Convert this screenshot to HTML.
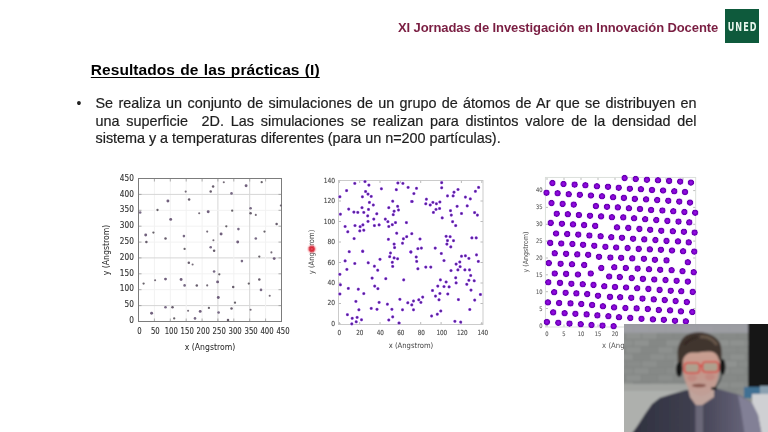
<!DOCTYPE html>
<html><head><meta charset="utf-8"><title>Resultados de las prácticas (I)</title>
<style>
html,body{margin:0;padding:0;background:#fff;}
body{width:768px;height:432px;position:relative;overflow:hidden;font-family:"Liberation Sans",Arial,sans-serif;}
.hdr{position:absolute;left:398px;top:19.5px;font-weight:bold;font-size:13px;letter-spacing:-0.1px;color:#7a1e42;white-space:nowrap;line-height:15px;}
.logo{position:absolute;left:725px;top:9px;width:34px;height:34px;background:#0e5a3c;}
.logo span{position:absolute;left:2.7px;top:12.5px;width:30px;text-align:center;color:#e6f6ec;font:bold 9px "DejaVu Sans",sans-serif;font-stretch:condensed;letter-spacing:1.1px;line-height:10px;transform:scaleY(1.33);}
.ttl{position:absolute;left:90.8px;top:60.5px;font-weight:bold;font-size:15.5px;letter-spacing:0.07px;word-spacing:0.9px;color:#000;white-space:nowrap;line-height:17px;text-decoration:underline;text-decoration-thickness:1.3px;text-underline-offset:2.1px;text-decoration-skip-ink:none;}
.bul{position:absolute;left:76.5px;top:95.4px;font-size:14px;color:#222;line-height:17px;}
.txt{position:absolute;left:95.5px;top:95.4px;-webkit-text-stroke:0.2px #1e1e1e;width:601px;font-size:14.4px;color:#1e1e1e;line-height:17.2px;}
.txt div{white-space:nowrap;text-align:justify;text-align-last:justify;}
.txt div.l{text-align:left;text-align-last:left;word-spacing:-0.1px;}
svg{position:absolute;left:0;top:0;}
</style></head><body>
<div class="hdr">XI Jornadas de Investigación en Innovación Docente</div>
<div class="logo"><span>UNED</span></div>
<div class="ttl">Resultados de las prácticas (I)</div>
<div class="bul">•</div>
<div class="txt"><div>Se realiza un conjunto de simulaciones de un grupo de átomos de Ar que se distribuyen en</div><div>una superficie &nbsp;2D. Las simulaciones se realizan para distintos valore de la densidad del</div><div class="l">sistema y a temperaturas diferentes (para un n=200 partículas).</div></div>
<svg width="768" height="432" viewBox="0 0 768 432">
<defs><radialGradient id="g2"><stop offset="0" stop-color="#4e2478"/><stop offset="0.4" stop-color="#6228a8"/><stop offset="0.7" stop-color="#9a50e8" stop-opacity="0.75"/><stop offset="1" stop-color="#d0a0ff" stop-opacity="0"/></radialGradient>
<radialGradient id="g3"><stop offset="0" stop-color="#9a14ea"/><stop offset="0.55" stop-color="#7e00cc"/><stop offset="0.85" stop-color="#6200aa"/><stop offset="1" stop-color="#8a30d0" stop-opacity="0.5"/></radialGradient>
<radialGradient id="gr"><stop offset="0" stop-color="#e85a68"/><stop offset="0.3" stop-color="#d82838"/><stop offset="0.5" stop-color="#e03848" stop-opacity="0.85"/><stop offset="0.75" stop-color="#f89098" stop-opacity="0.35"/><stop offset="1" stop-color="#ffd0d0" stop-opacity="0"/></radialGradient></defs>
<g fill="#5e4e6a"><line x1="154.4" y1="178.5" x2="154.4" y2="321.5" stroke="#f2f2f2" stroke-width="1"/><line x1="138.5" y1="305.6" x2="281.5" y2="305.6" stroke="#d6d6d6" stroke-width="1"/><line x1="170.3" y1="178.5" x2="170.3" y2="321.5" stroke="#f2f2f2" stroke-width="1"/><line x1="138.5" y1="289.7" x2="281.5" y2="289.7" stroke="#f2f2f2" stroke-width="1"/><line x1="186.2" y1="178.5" x2="186.2" y2="321.5" stroke="#f2f2f2" stroke-width="1"/><line x1="138.5" y1="273.8" x2="281.5" y2="273.8" stroke="#f2f2f2" stroke-width="1"/><line x1="202.1" y1="178.5" x2="202.1" y2="321.5" stroke="#f2f2f2" stroke-width="1"/><line x1="138.5" y1="257.9" x2="281.5" y2="257.9" stroke="#d6d6d6" stroke-width="1"/><line x1="217.9" y1="178.5" x2="217.9" y2="321.5" stroke="#d6d6d6" stroke-width="1"/><line x1="138.5" y1="242.1" x2="281.5" y2="242.1" stroke="#f2f2f2" stroke-width="1"/><line x1="233.8" y1="178.5" x2="233.8" y2="321.5" stroke="#f2f2f2" stroke-width="1"/><line x1="138.5" y1="226.2" x2="281.5" y2="226.2" stroke="#f2f2f2" stroke-width="1"/><line x1="249.7" y1="178.5" x2="249.7" y2="321.5" stroke="#d6d6d6" stroke-width="1"/><line x1="138.5" y1="210.3" x2="281.5" y2="210.3" stroke="#f2f2f2" stroke-width="1"/><line x1="265.6" y1="178.5" x2="265.6" y2="321.5" stroke="#f2f2f2" stroke-width="1"/><line x1="138.5" y1="194.4" x2="281.5" y2="194.4" stroke="#d6d6d6" stroke-width="1"/><path d="M138.5 321.5v-3M138.5 178.5v3M138.5 321.5h3M281.5 321.5h-3M154.4 321.5v-3M154.4 178.5v3M138.5 305.6h3M281.5 305.6h-3M170.3 321.5v-3M170.3 178.5v3M138.5 289.7h3M281.5 289.7h-3M186.2 321.5v-3M186.2 178.5v3M138.5 273.8h3M281.5 273.8h-3M202.1 321.5v-3M202.1 178.5v3M138.5 257.9h3M281.5 257.9h-3M217.9 321.5v-3M217.9 178.5v3M138.5 242.1h3M281.5 242.1h-3M233.8 321.5v-3M233.8 178.5v3M138.5 226.2h3M281.5 226.2h-3M249.7 321.5v-3M249.7 178.5v3M138.5 210.3h3M281.5 210.3h-3M265.6 321.5v-3M265.6 178.5v3M138.5 194.4h3M281.5 194.4h-3M281.5 321.5v-3M281.5 178.5v3M138.5 178.5h3M281.5 178.5h-3" stroke="#999" stroke-width="0.8" fill="none"/><rect x="138.5" y="178.5" width="143" height="143" fill="none" stroke="#7c7c7c" stroke-width="1"/><circle cx="213.1" cy="186.4" r="1.25" fill="#4e4254" fill-opacity="0.85"/><circle cx="223.8" cy="182.2" r="1.05" fill="#5e5462" fill-opacity="0.85"/><circle cx="246.1" cy="185.7" r="1.45" fill="#584466" fill-opacity="0.85"/><circle cx="261.7" cy="182.2" r="1.15" fill="#4e4850" fill-opacity="0.85"/><circle cx="231.5" cy="193.4" r="1.3" fill="#605070" fill-opacity="0.85"/><circle cx="210.7" cy="191.6" r="1.25" fill="#4e4254" fill-opacity="0.85"/><circle cx="185.7" cy="191.6" r="1.05" fill="#5e5462" fill-opacity="0.85"/><circle cx="167.9" cy="201" r="1.45" fill="#584466" fill-opacity="0.85"/><circle cx="157.5" cy="210" r="1.15" fill="#4e4850" fill-opacity="0.85"/><circle cx="140.2" cy="212.5" r="1.3" fill="#605070" fill-opacity="0.85"/><circle cx="189.1" cy="199.6" r="1.25" fill="#4e4254" fill-opacity="0.85"/><circle cx="199.2" cy="213.2" r="1.05" fill="#5e5462" fill-opacity="0.85"/><circle cx="208.2" cy="211.8" r="1.45" fill="#584466" fill-opacity="0.85"/><circle cx="232.2" cy="210.7" r="1.15" fill="#4e4850" fill-opacity="0.85"/><circle cx="250.6" cy="208.3" r="1.3" fill="#605070" fill-opacity="0.85"/><circle cx="250.6" cy="213.2" r="1.25" fill="#4e4254" fill-opacity="0.85"/><circle cx="255.8" cy="214.9" r="1.05" fill="#5e5462" fill-opacity="0.85"/><circle cx="170.7" cy="219.4" r="1.45" fill="#584466" fill-opacity="0.85"/><circle cx="226.3" cy="226.3" r="1.15" fill="#4e4850" fill-opacity="0.85"/><circle cx="238.4" cy="229.1" r="1.3" fill="#605070" fill-opacity="0.85"/><circle cx="276.6" cy="223.9" r="1.25" fill="#4e4254" fill-opacity="0.85"/><circle cx="280.8" cy="205.5" r="1.05" fill="#5e5462" fill-opacity="0.85"/><circle cx="145.7" cy="235" r="1.45" fill="#584466" fill-opacity="0.85"/><circle cx="153.4" cy="232.6" r="1.15" fill="#4e4850" fill-opacity="0.85"/><circle cx="183.9" cy="236.1" r="1.3" fill="#605070" fill-opacity="0.85"/><circle cx="165.5" cy="238.5" r="1.25" fill="#4e4254" fill-opacity="0.85"/><circle cx="207.2" cy="231.6" r="1.05" fill="#5e5462" fill-opacity="0.85"/><circle cx="221.1" cy="234" r="1.45" fill="#584466" fill-opacity="0.85"/><circle cx="264.5" cy="231.6" r="1.15" fill="#4e4850" fill-opacity="0.85"/><circle cx="255.8" cy="238.5" r="1.3" fill="#605070" fill-opacity="0.85"/><circle cx="146.4" cy="242" r="1.25" fill="#4e4254" fill-opacity="0.85"/><circle cx="213.4" cy="240.2" r="1.05" fill="#5e5462" fill-opacity="0.85"/><circle cx="237.7" cy="242" r="1.45" fill="#584466" fill-opacity="0.85"/><circle cx="184.6" cy="248.9" r="1.15" fill="#4e4850" fill-opacity="0.85"/><circle cx="210.7" cy="247.2" r="1.3" fill="#605070" fill-opacity="0.85"/><circle cx="214.1" cy="250.7" r="1.25" fill="#4e4254" fill-opacity="0.85"/><circle cx="271.4" cy="252.4" r="1.05" fill="#5e5462" fill-opacity="0.85"/><circle cx="274.2" cy="258.6" r="1.45" fill="#584466" fill-opacity="0.85"/><circle cx="259.3" cy="256.6" r="1.15" fill="#4e4850" fill-opacity="0.85"/><circle cx="241.9" cy="261.1" r="1.3" fill="#605070" fill-opacity="0.85"/><circle cx="188.8" cy="262.8" r="1.25" fill="#4e4254" fill-opacity="0.85"/><circle cx="192.6" cy="264.5" r="1.05" fill="#5e5462" fill-opacity="0.85"/><circle cx="181.1" cy="279.5" r="1.45" fill="#584466" fill-opacity="0.85"/><circle cx="219.3" cy="274.3" r="1.15" fill="#4e4850" fill-opacity="0.85"/><circle cx="214.1" cy="271.5" r="1.3" fill="#605070" fill-opacity="0.85"/><circle cx="259.3" cy="279.5" r="1.25" fill="#4e4254" fill-opacity="0.85"/><circle cx="155.1" cy="280.2" r="1.05" fill="#5e5462" fill-opacity="0.85"/><circle cx="165.5" cy="279.1" r="1.45" fill="#584466" fill-opacity="0.85"/><circle cx="143.6" cy="283.6" r="1.15" fill="#4e4850" fill-opacity="0.85"/><circle cx="184.6" cy="285.4" r="1.3" fill="#605070" fill-opacity="0.85"/><circle cx="196.8" cy="285.4" r="1.25" fill="#4e4254" fill-opacity="0.85"/><circle cx="207.2" cy="285.4" r="1.05" fill="#5e5462" fill-opacity="0.85"/><circle cx="217.6" cy="281.9" r="1.45" fill="#584466" fill-opacity="0.85"/><circle cx="248.8" cy="283.6" r="1.15" fill="#4e4850" fill-opacity="0.85"/><circle cx="261" cy="289.9" r="1.3" fill="#605070" fill-opacity="0.85"/><circle cx="233.2" cy="287.1" r="1.25" fill="#4e4254" fill-opacity="0.85"/><circle cx="269.7" cy="295.8" r="1.05" fill="#5e5462" fill-opacity="0.85"/><circle cx="218.3" cy="297.5" r="1.45" fill="#584466" fill-opacity="0.85"/><circle cx="235" cy="302.7" r="1.15" fill="#4e4850" fill-opacity="0.85"/><circle cx="165.5" cy="307.2" r="1.3" fill="#605070" fill-opacity="0.85"/><circle cx="172.5" cy="307.2" r="1.25" fill="#4e4254" fill-opacity="0.85"/><circle cx="188.1" cy="310.7" r="1.05" fill="#5e5462" fill-opacity="0.85"/><circle cx="200.2" cy="311.4" r="1.45" fill="#584466" fill-opacity="0.85"/><circle cx="208.9" cy="307.9" r="1.15" fill="#4e4850" fill-opacity="0.85"/><circle cx="218.6" cy="312.5" r="1.3" fill="#605070" fill-opacity="0.85"/><circle cx="231.5" cy="308.6" r="1.25" fill="#4e4254" fill-opacity="0.85"/><circle cx="250.6" cy="309.7" r="1.05" fill="#5e5462" fill-opacity="0.85"/><circle cx="151.6" cy="313.2" r="1.45" fill="#584466" fill-opacity="0.85"/><circle cx="174.2" cy="318.4" r="1.15" fill="#4e4850" fill-opacity="0.85"/><circle cx="195" cy="318.4" r="1.3" fill="#605070" fill-opacity="0.85"/><circle cx="228" cy="320.1" r="1.25" fill="#4e4254" fill-opacity="0.85"/></g>
<g font-family="DejaVu Sans" font-stretch="condensed" font-size="8.4" fill="#333" stroke="#333" stroke-width="0.12"><text x="133.9" y="322.9" text-anchor="end" textLength="4.7" lengthAdjust="spacingAndGlyphs">0</text><text x="139.4" y="334.1" text-anchor="middle" textLength="4.4" lengthAdjust="spacingAndGlyphs">0</text><text x="133.9" y="307.2" text-anchor="end" textLength="9.4" lengthAdjust="spacingAndGlyphs">50</text><text x="155.3" y="334.1" text-anchor="middle" textLength="8.8" lengthAdjust="spacingAndGlyphs">50</text><text x="133.9" y="291.4" text-anchor="end" textLength="14.1" lengthAdjust="spacingAndGlyphs">100</text><text x="171.3" y="334.1" text-anchor="middle" textLength="13.2" lengthAdjust="spacingAndGlyphs">100</text><text x="133.9" y="275.6" text-anchor="end" textLength="14.1" lengthAdjust="spacingAndGlyphs">150</text><text x="187.2" y="334.1" text-anchor="middle" textLength="13.2" lengthAdjust="spacingAndGlyphs">150</text><text x="133.9" y="259.8" text-anchor="end" textLength="14.1" lengthAdjust="spacingAndGlyphs">200</text><text x="203.2" y="334.1" text-anchor="middle" textLength="13.2" lengthAdjust="spacingAndGlyphs">200</text><text x="133.9" y="243.9" text-anchor="end" textLength="14.1" lengthAdjust="spacingAndGlyphs">250</text><text x="219.2" y="334.1" text-anchor="middle" textLength="13.2" lengthAdjust="spacingAndGlyphs">250</text><text x="133.9" y="228.2" text-anchor="end" textLength="14.1" lengthAdjust="spacingAndGlyphs">300</text><text x="235.1" y="334.1" text-anchor="middle" textLength="13.2" lengthAdjust="spacingAndGlyphs">300</text><text x="133.9" y="212.3" text-anchor="end" textLength="14.1" lengthAdjust="spacingAndGlyphs">350</text><text x="251.1" y="334.1" text-anchor="middle" textLength="13.2" lengthAdjust="spacingAndGlyphs">350</text><text x="133.9" y="196.6" text-anchor="end" textLength="14.1" lengthAdjust="spacingAndGlyphs">400</text><text x="267" y="334.1" text-anchor="middle" textLength="13.2" lengthAdjust="spacingAndGlyphs">400</text><text x="133.9" y="180.8" text-anchor="end" textLength="14.1" lengthAdjust="spacingAndGlyphs">450</text><text x="283" y="334.1" text-anchor="middle" textLength="13.2" lengthAdjust="spacingAndGlyphs">450</text></g>
<g font-family="DejaVu Sans" font-stretch="condensed" fill="#222"><text x="210" y="349.8" text-anchor="middle" font-size="8.6">x (Angstrom)</text>
<text transform="translate(108.6,250) rotate(-90)" text-anchor="middle" font-size="8.6">y (Angstrom)</text></g>
<path d="M339.3 324.5v-2.5M339.3 180.5v2.5M338.5 324h2.5M483 324h-2.5M359.7 324.5v-2.5M359.7 180.5v2.5M338.5 303.5h2.5M483 303.5h-2.5M380 324.5v-2.5M380 180.5v2.5M338.5 283h2.5M483 283h-2.5M400.4 324.5v-2.5M400.4 180.5v2.5M338.5 262.5h2.5M483 262.5h-2.5M420.7 324.5v-2.5M420.7 180.5v2.5M338.5 242h2.5M483 242h-2.5M441.1 324.5v-2.5M441.1 180.5v2.5M338.5 221.5h2.5M483 221.5h-2.5M461.4 324.5v-2.5M461.4 180.5v2.5M338.5 201h2.5M483 201h-2.5M481.8 324.5v-2.5M481.8 180.5v2.5M338.5 180.5h2.5M483 180.5h-2.5" stroke="#aaa" stroke-width="0.8" fill="none"/><rect x="338.5" y="180.5" width="144.5" height="144" fill="none" stroke="#c6c6c6" stroke-width="0.9"/><g fill="url(#g2)"><circle cx="354.8" cy="183.4" r="2.1"/><circle cx="365" cy="181.6" r="2.1"/><circle cx="368.9" cy="185.1" r="2.1"/><circle cx="397.9" cy="183" r="2.1"/><circle cx="402.9" cy="183.4" r="2.1"/><circle cx="408.1" cy="187.4" r="2.1"/><circle cx="346.6" cy="190.6" r="2.1"/><circle cx="381.4" cy="188.8" r="2.1"/><circle cx="396.3" cy="189.7" r="2.1"/><circle cx="365.6" cy="191.5" r="2.1"/><circle cx="368" cy="194.1" r="2.1"/><circle cx="371.2" cy="196.4" r="2.1"/><circle cx="362.4" cy="196.8" r="2.1"/><circle cx="339.9" cy="196.8" r="2.1"/><circle cx="369.4" cy="202.4" r="2.1"/><circle cx="373.3" cy="205" r="2.1"/><circle cx="392.7" cy="201.2" r="2.1"/><circle cx="411.7" cy="201.5" r="2.1"/><circle cx="362" cy="207.7" r="2.1"/><circle cx="368.5" cy="209.4" r="2.1"/><circle cx="388.8" cy="207.7" r="2.1"/><circle cx="397.6" cy="206.3" r="2.1"/><circle cx="398.5" cy="210" r="2.1"/><circle cx="394.1" cy="211.2" r="2.1"/><circle cx="348.7" cy="209.1" r="2.1"/><circle cx="353.9" cy="212.1" r="2.1"/><circle cx="357.8" cy="212.4" r="2.1"/><circle cx="363.8" cy="212.4" r="2.1"/><circle cx="340.4" cy="214.2" r="2.1"/><circle cx="376.8" cy="213.8" r="2.1"/><circle cx="393.2" cy="214.7" r="2.1"/><circle cx="367.7" cy="215.9" r="2.1"/><circle cx="373.8" cy="219.1" r="2.1"/><circle cx="385.3" cy="219.1" r="2.1"/><circle cx="387.9" cy="221.7" r="2.1"/><circle cx="395.5" cy="222.6" r="2.1"/><circle cx="368" cy="221.4" r="2.1"/><circle cx="406.4" cy="222.6" r="2.1"/><circle cx="345.1" cy="226.5" r="2.1"/><circle cx="355" cy="225.6" r="2.1"/><circle cx="362.9" cy="224.9" r="2.1"/><circle cx="360.1" cy="226.7" r="2.1"/><circle cx="374.4" cy="225.6" r="2.1"/><circle cx="379.1" cy="224.9" r="2.1"/><circle cx="388.8" cy="226.5" r="2.1"/><circle cx="392.3" cy="224.7" r="2.1"/><circle cx="347.8" cy="231.8" r="2.1"/><circle cx="359.8" cy="230.9" r="2.1"/><circle cx="363.8" cy="230.2" r="2.1"/><circle cx="396.7" cy="233.2" r="2.1"/><circle cx="354.1" cy="238.6" r="2.1"/><circle cx="388.4" cy="239.3" r="2.1"/><circle cx="403.4" cy="238.8" r="2.1"/><circle cx="406.7" cy="236.7" r="2.1"/><circle cx="394.1" cy="244.1" r="2.1"/><circle cx="402.5" cy="243.2" r="2.1"/><circle cx="394.6" cy="247.6" r="2.1"/><circle cx="349.2" cy="251.7" r="2.1"/><circle cx="362.7" cy="251.1" r="2.1"/><circle cx="441.7" cy="182.7" r="2.1"/><circle cx="441.7" cy="187.8" r="2.1"/><circle cx="416.5" cy="188.3" r="2.1"/><circle cx="413.9" cy="193.6" r="2.1"/><circle cx="458" cy="189.5" r="2.1"/><circle cx="454" cy="192.2" r="2.1"/><circle cx="453.1" cy="195.9" r="2.1"/><circle cx="447.5" cy="195.9" r="2.1"/><circle cx="478.6" cy="187.4" r="2.1"/><circle cx="475.4" cy="191.3" r="2.1"/><circle cx="465.4" cy="197.1" r="2.1"/><circle cx="470.3" cy="198.9" r="2.1"/><circle cx="412.1" cy="201.5" r="2.1"/><circle cx="426.4" cy="199.2" r="2.1"/><circle cx="425.8" cy="203.8" r="2.1"/><circle cx="430.2" cy="205" r="2.1"/><circle cx="432.9" cy="202.4" r="2.1"/><circle cx="436.4" cy="203.8" r="2.1"/><circle cx="439.9" cy="202" r="2.1"/><circle cx="436" cy="209.4" r="2.1"/><circle cx="439.6" cy="208.5" r="2.1"/><circle cx="433.4" cy="212.4" r="2.1"/><circle cx="457.1" cy="206.3" r="2.1"/><circle cx="467.2" cy="205.9" r="2.1"/><circle cx="450.5" cy="210.7" r="2.1"/><circle cx="451.3" cy="215.1" r="2.1"/><circle cx="461.5" cy="213.5" r="2.1"/><circle cx="474.6" cy="212.6" r="2.1"/><circle cx="477.4" cy="215.1" r="2.1"/><circle cx="442.2" cy="217.9" r="2.1"/><circle cx="452.6" cy="221.7" r="2.1"/><circle cx="455.7" cy="225.6" r="2.1"/><circle cx="411.8" cy="233.7" r="2.1"/><circle cx="420" cy="239" r="2.1"/><circle cx="446.1" cy="236.3" r="2.1"/><circle cx="450.1" cy="236.7" r="2.1"/><circle cx="447.5" cy="240.6" r="2.1"/><circle cx="453.5" cy="240.7" r="2.1"/><circle cx="446.9" cy="244.1" r="2.1"/><circle cx="450.8" cy="246.9" r="2.1"/><circle cx="471.9" cy="237.9" r="2.1"/><circle cx="476.2" cy="237.9" r="2.1"/><circle cx="417.9" cy="248.7" r="2.1"/><circle cx="421.4" cy="248.1" r="2.1"/><circle cx="435.2" cy="248.1" r="2.1"/><circle cx="362.7" cy="251.4" r="2.1"/><circle cx="390.5" cy="253" r="2.1"/><circle cx="389.7" cy="256.7" r="2.1"/><circle cx="394.1" cy="257.9" r="2.1"/><circle cx="397.6" cy="258.8" r="2.1"/><circle cx="410.8" cy="251.8" r="2.1"/><circle cx="345.1" cy="260.9" r="2.1"/><circle cx="354.8" cy="263.5" r="2.1"/><circle cx="368.2" cy="262.8" r="2.1"/><circle cx="380" cy="259.3" r="2.1"/><circle cx="392.3" cy="262.3" r="2.1"/><circle cx="392.7" cy="266.4" r="2.1"/><circle cx="374.4" cy="266.2" r="2.1"/><circle cx="377.7" cy="270.2" r="2.1"/><circle cx="346.9" cy="269.4" r="2.1"/><circle cx="339.9" cy="274.3" r="2.1"/><circle cx="372.1" cy="278.1" r="2.1"/><circle cx="385.8" cy="278.7" r="2.1"/><circle cx="403.7" cy="279.9" r="2.1"/><circle cx="340.4" cy="284.8" r="2.1"/><circle cx="348.3" cy="288.4" r="2.1"/><circle cx="358.3" cy="289.2" r="2.1"/><circle cx="374.7" cy="286.1" r="2.1"/><circle cx="377.9" cy="288.7" r="2.1"/><circle cx="363.8" cy="293.6" r="2.1"/><circle cx="339.9" cy="294" r="2.1"/><circle cx="399.9" cy="299.3" r="2.1"/><circle cx="355.9" cy="301.4" r="2.1"/><circle cx="379.1" cy="302.4" r="2.1"/><circle cx="387.4" cy="304.2" r="2.1"/><circle cx="407.8" cy="302.8" r="2.1"/><circle cx="358.9" cy="309.8" r="2.1"/><circle cx="371.2" cy="308.4" r="2.1"/><circle cx="377" cy="309.3" r="2.1"/><circle cx="391.9" cy="309.3" r="2.1"/><circle cx="402.5" cy="309.8" r="2.1"/><circle cx="347.4" cy="314.7" r="2.1"/><circle cx="352.2" cy="318.3" r="2.1"/><circle cx="357.1" cy="317.4" r="2.1"/><circle cx="361.5" cy="319.8" r="2.1"/><circle cx="392.7" cy="316.9" r="2.1"/><circle cx="388.8" cy="320" r="2.1"/><circle cx="356.2" cy="321.8" r="2.1"/><circle cx="351.8" cy="323.9" r="2.1"/><circle cx="399" cy="323" r="2.1"/><circle cx="410.9" cy="252.1" r="2.1"/><circle cx="441.3" cy="253.5" r="2.1"/><circle cx="416.2" cy="257" r="2.1"/><circle cx="416.7" cy="261.4" r="2.1"/><circle cx="444" cy="260.6" r="2.1"/><circle cx="461.5" cy="256.2" r="2.1"/><circle cx="465.4" cy="255.8" r="2.1"/><circle cx="468.9" cy="258.4" r="2.1"/><circle cx="476.5" cy="254.9" r="2.1"/><circle cx="478.3" cy="261.4" r="2.1"/><circle cx="459.8" cy="262" r="2.1"/><circle cx="456.1" cy="264.1" r="2.1"/><circle cx="460.1" cy="266.7" r="2.1"/><circle cx="417.9" cy="268.8" r="2.1"/><circle cx="425.8" cy="267.1" r="2.1"/><circle cx="430.8" cy="267.1" r="2.1"/><circle cx="451" cy="270.6" r="2.1"/><circle cx="457.9" cy="269.9" r="2.1"/><circle cx="464.9" cy="269.9" r="2.1"/><circle cx="469.5" cy="269.9" r="2.1"/><circle cx="470.7" cy="275.5" r="2.1"/><circle cx="455.7" cy="277.8" r="2.1"/><circle cx="456.1" cy="282.9" r="2.1"/><circle cx="468.9" cy="280.3" r="2.1"/><circle cx="474.2" cy="280.8" r="2.1"/><circle cx="466.8" cy="284.3" r="2.1"/><circle cx="440.4" cy="279.9" r="2.1"/><circle cx="446.1" cy="282" r="2.1"/><circle cx="437.8" cy="286.1" r="2.1"/><circle cx="444" cy="286.6" r="2.1"/><circle cx="449.1" cy="286.9" r="2.1"/><circle cx="432.5" cy="290.5" r="2.1"/><circle cx="439.9" cy="293.5" r="2.1"/><circle cx="447.8" cy="294" r="2.1"/><circle cx="471" cy="290.1" r="2.1"/><circle cx="435.5" cy="296.1" r="2.1"/><circle cx="422.7" cy="297.1" r="2.1"/><circle cx="418.8" cy="299.8" r="2.1"/><circle cx="420.9" cy="302.4" r="2.1"/><circle cx="413.5" cy="301" r="2.1"/><circle cx="411.8" cy="304.9" r="2.1"/><circle cx="439" cy="299.8" r="2.1"/><circle cx="458.4" cy="299.6" r="2.1"/><circle cx="474.7" cy="300.1" r="2.1"/><circle cx="480.4" cy="294.5" r="2.1"/><circle cx="413.5" cy="309.8" r="2.1"/><circle cx="440.8" cy="311" r="2.1"/><circle cx="469.8" cy="309.5" r="2.1"/><circle cx="437.3" cy="314.2" r="2.1"/><circle cx="431.6" cy="316" r="2.1"/><circle cx="454.9" cy="321.3" r="2.1"/><circle cx="460.7" cy="322.1" r="2.1"/></g>
<g font-family="DejaVu Sans" font-stretch="condensed" font-size="7" fill="#484848" stroke="#484848" stroke-width="0.12"><text x="335.1" y="325.8" text-anchor="end" textLength="3.8" lengthAdjust="spacingAndGlyphs">0</text><text x="339.3" y="335.1" text-anchor="middle" textLength="3.6" lengthAdjust="spacingAndGlyphs">0</text><text x="335.1" y="305.4" text-anchor="end" textLength="7.6" lengthAdjust="spacingAndGlyphs">20</text><text x="359.8" y="335.1" text-anchor="middle" textLength="7.2" lengthAdjust="spacingAndGlyphs">20</text><text x="335.1" y="284.9" text-anchor="end" textLength="7.6" lengthAdjust="spacingAndGlyphs">40</text><text x="380.3" y="335.1" text-anchor="middle" textLength="7.2" lengthAdjust="spacingAndGlyphs">40</text><text x="335.1" y="264.6" text-anchor="end" textLength="7.6" lengthAdjust="spacingAndGlyphs">60</text><text x="400.8" y="335.1" text-anchor="middle" textLength="7.2" lengthAdjust="spacingAndGlyphs">60</text><text x="335.1" y="244.2" text-anchor="end" textLength="7.6" lengthAdjust="spacingAndGlyphs">80</text><text x="421.3" y="335.1" text-anchor="middle" textLength="7.2" lengthAdjust="spacingAndGlyphs">80</text><text x="335.1" y="223.8" text-anchor="end" textLength="11.4" lengthAdjust="spacingAndGlyphs">100</text><text x="441.8" y="335.1" text-anchor="middle" textLength="10.8" lengthAdjust="spacingAndGlyphs">100</text><text x="335.1" y="203.4" text-anchor="end" textLength="11.4" lengthAdjust="spacingAndGlyphs">120</text><text x="462.3" y="335.1" text-anchor="middle" textLength="10.8" lengthAdjust="spacingAndGlyphs">120</text><text x="335.1" y="183" text-anchor="end" textLength="11.4" lengthAdjust="spacingAndGlyphs">140</text><text x="482.8" y="335.1" text-anchor="middle" textLength="10.8" lengthAdjust="spacingAndGlyphs">140</text></g>
<g font-family="DejaVu Sans" font-stretch="condensed" fill="#444"><text x="411" y="347.9" text-anchor="middle" font-size="7.6">x (Angstrom)</text>
<text transform="translate(313.6,252) rotate(-90)" text-anchor="middle" font-size="7.6">y (Angstrom)</text></g>
<path d="M547 327v-2.5M547 177.4v2.5M545.4 325.4h2.5M695.7 325.4h-2.5M564 327v-2.5M564 177.4v2.5M545.4 308.5h2.5M695.7 308.5h-2.5M581 327v-2.5M581 177.4v2.5M545.4 291.7h2.5M695.7 291.7h-2.5M598 327v-2.5M598 177.4v2.5M545.4 274.8h2.5M695.7 274.8h-2.5M615 327v-2.5M615 177.4v2.5M545.4 258h2.5M695.7 258h-2.5M632 327v-2.5M632 177.4v2.5M545.4 241.1h2.5M695.7 241.1h-2.5M649 327v-2.5M649 177.4v2.5M545.4 224.3h2.5M695.7 224.3h-2.5M666 327v-2.5M666 177.4v2.5M545.4 207.4h2.5M695.7 207.4h-2.5M683 327v-2.5M683 177.4v2.5M545.4 190.6h2.5M695.7 190.6h-2.5" stroke="#aaa" stroke-width="0.8" fill="none"/><rect x="545.4" y="177.4" width="150.3" height="149.6" fill="none" stroke="#d8dcd8" stroke-width="0.9"/><g fill="url(#g3)"><circle cx="552.4" cy="183.1" r="3.3"/><circle cx="563.5" cy="184" r="3.3"/><circle cx="574.6" cy="184.6" r="3.3"/><circle cx="585.4" cy="185.3" r="3.3"/><circle cx="596.9" cy="186.3" r="3.3"/><circle cx="608" cy="186.8" r="3.3"/><circle cx="618.7" cy="187.7" r="3.3"/><circle cx="629.8" cy="188.7" r="3.3"/><circle cx="640.9" cy="189.2" r="3.3"/><circle cx="652" cy="190" r="3.3"/><circle cx="663.1" cy="190.5" r="3.3"/><circle cx="674.3" cy="191.3" r="3.3"/><circle cx="685" cy="192" r="3.3"/><circle cx="624.6" cy="178.1" r="3.3"/><circle cx="635.7" cy="179" r="3.3"/><circle cx="646.9" cy="179.8" r="3.3"/><circle cx="658" cy="180.3" r="3.3"/><circle cx="669.1" cy="180.9" r="3.3"/><circle cx="680.2" cy="181.6" r="3.3"/><circle cx="690.9" cy="182.6" r="3.3"/><circle cx="546.5" cy="192.7" r="3.3"/><circle cx="557.6" cy="193.3" r="3.3"/><circle cx="568.7" cy="194.2" r="3.3"/><circle cx="579.8" cy="194.8" r="3.3"/><circle cx="590.9" cy="195.5" r="3.3"/><circle cx="602" cy="196.3" r="3.3"/><circle cx="613.1" cy="197.2" r="3.3"/><circle cx="623.9" cy="197.9" r="3.3"/><circle cx="634.8" cy="198.9" r="3.3"/><circle cx="646.1" cy="199.4" r="3.3"/><circle cx="657.2" cy="200.1" r="3.3"/><circle cx="668.3" cy="200.7" r="3.3"/><circle cx="679.3" cy="201.6" r="3.3"/><circle cx="690" cy="202.6" r="3.3"/><circle cx="551.5" cy="203.1" r="3.3"/><circle cx="562.6" cy="203.9" r="3.3"/><circle cx="573.7" cy="204.6" r="3.3"/><circle cx="595.9" cy="206.1" r="3.3"/><circle cx="607" cy="206.8" r="3.3"/><circle cx="617.8" cy="207.4" r="3.3"/><circle cx="628.9" cy="208.3" r="3.3"/><circle cx="640" cy="209" r="3.3"/><circle cx="651.1" cy="210" r="3.3"/><circle cx="662.4" cy="210.5" r="3.3"/><circle cx="673.3" cy="211.3" r="3.3"/><circle cx="684.4" cy="212" r="3.3"/><circle cx="695.2" cy="212.7" r="3.3"/><circle cx="556.7" cy="213.7" r="3.3"/><circle cx="567.8" cy="214.2" r="3.3"/><circle cx="578.9" cy="215" r="3.3"/><circle cx="590" cy="215.7" r="3.3"/><circle cx="601.1" cy="216.4" r="3.3"/><circle cx="611.9" cy="217.2" r="3.3"/><circle cx="623.3" cy="217.4" r="3.3"/><circle cx="634.1" cy="218.3" r="3.3"/><circle cx="645.2" cy="219.2" r="3.3"/><circle cx="656.3" cy="220.1" r="3.3"/><circle cx="667.4" cy="220.9" r="3.3"/><circle cx="678.5" cy="221.6" r="3.3"/><circle cx="689.3" cy="222.4" r="3.3"/><circle cx="550.7" cy="222.9" r="3.3"/><circle cx="561.9" cy="223.7" r="3.3"/><circle cx="573" cy="224.4" r="3.3"/><circle cx="584.1" cy="225.1" r="3.3"/><circle cx="595.2" cy="225.9" r="3.3"/><circle cx="617" cy="227.4" r="3.3"/><circle cx="628.3" cy="227.9" r="3.3"/><circle cx="639.4" cy="228.9" r="3.3"/><circle cx="650.2" cy="229.8" r="3.3"/><circle cx="661.3" cy="230.7" r="3.3"/><circle cx="672.8" cy="231.3" r="3.3"/><circle cx="683.9" cy="231.8" r="3.3"/><circle cx="694.6" cy="232.6" r="3.3"/><circle cx="556.1" cy="233.5" r="3.3"/><circle cx="567.2" cy="234" r="3.3"/><circle cx="578.3" cy="234.6" r="3.3"/><circle cx="589.4" cy="235.5" r="3.3"/><circle cx="600.6" cy="236.3" r="3.3"/><circle cx="611.3" cy="237.2" r="3.3"/><circle cx="622" cy="237.7" r="3.3"/><circle cx="633.1" cy="238.7" r="3.3"/><circle cx="644.3" cy="239.4" r="3.3"/><circle cx="655.4" cy="240.1" r="3.3"/><circle cx="666.5" cy="240.9" r="3.3"/><circle cx="678" cy="241.4" r="3.3"/><circle cx="688.7" cy="242.4" r="3.3"/><circle cx="550.2" cy="242.9" r="3.3"/><circle cx="561.3" cy="243.5" r="3.3"/><circle cx="572.4" cy="244" r="3.3"/><circle cx="583.1" cy="244.8" r="3.3"/><circle cx="594.3" cy="245.7" r="3.3"/><circle cx="605.4" cy="246.8" r="3.3"/><circle cx="616.2" cy="247.5" r="3.3"/><circle cx="627.6" cy="248.1" r="3.3"/><circle cx="638.7" cy="248.9" r="3.3"/><circle cx="649.8" cy="249.4" r="3.3"/><circle cx="660.9" cy="249.8" r="3.3"/><circle cx="672" cy="250.5" r="3.3"/><circle cx="683.1" cy="251.3" r="3.3"/><circle cx="694.3" cy="251.6" r="3.3"/><circle cx="554.7" cy="253.3" r="3.3"/><circle cx="566.1" cy="253.8" r="3.3"/><circle cx="577.3" cy="254.4" r="3.3"/><circle cx="588.2" cy="254.8" r="3.3"/><circle cx="599" cy="256.8" r="3.3"/><circle cx="610.4" cy="257.5" r="3.3"/><circle cx="621.2" cy="257.8" r="3.3"/><circle cx="632.3" cy="258.4" r="3.3"/><circle cx="643.9" cy="258.8" r="3.3"/><circle cx="654.9" cy="259.8" r="3.3"/><circle cx="666.5" cy="260.4" r="3.3"/><circle cx="687.8" cy="262.3" r="3.3"/><circle cx="548.8" cy="263.1" r="3.3"/><circle cx="560.6" cy="263.7" r="3.3"/><circle cx="572" cy="264.3" r="3.3"/><circle cx="584.2" cy="265" r="3.3"/><circle cx="601.3" cy="268" r="3.3"/><circle cx="614.3" cy="267.3" r="3.3"/><circle cx="625.8" cy="268" r="3.3"/><circle cx="637.6" cy="268.6" r="3.3"/><circle cx="649" cy="269.2" r="3.3"/><circle cx="660.2" cy="269.8" r="3.3"/><circle cx="671.6" cy="270.2" r="3.3"/><circle cx="682.5" cy="271.2" r="3.3"/><circle cx="693.7" cy="272.2" r="3.3"/><circle cx="554.7" cy="273.5" r="3.3"/><circle cx="566.1" cy="273.9" r="3.3"/><circle cx="577.9" cy="274.5" r="3.3"/><circle cx="590.7" cy="273.5" r="3.3"/><circle cx="609.2" cy="276.5" r="3.3"/><circle cx="619.8" cy="277.1" r="3.3"/><circle cx="631.7" cy="278.1" r="3.3"/><circle cx="642.9" cy="278.9" r="3.3"/><circle cx="654.3" cy="279.5" r="3.3"/><circle cx="665.5" cy="280.1" r="3.3"/><circle cx="676.6" cy="280.8" r="3.3"/><circle cx="687.8" cy="281.6" r="3.3"/><circle cx="548.3" cy="282.3" r="3.3"/><circle cx="560" cy="282.9" r="3.3"/><circle cx="571.4" cy="283.7" r="3.3"/><circle cx="582.7" cy="284.3" r="3.3"/><circle cx="593.5" cy="284.9" r="3.3"/><circle cx="604.3" cy="286.3" r="3.3"/><circle cx="615" cy="287" r="3.3"/><circle cx="626.1" cy="287.5" r="3.3"/><circle cx="637.2" cy="288.3" r="3.3"/><circle cx="648.4" cy="288.9" r="3.3"/><circle cx="659.6" cy="289.9" r="3.3"/><circle cx="670.7" cy="290.7" r="3.3"/><circle cx="681.3" cy="291.3" r="3.3"/><circle cx="692.7" cy="291.9" r="3.3"/><circle cx="554.2" cy="292.2" r="3.3"/><circle cx="565.6" cy="292.8" r="3.3"/><circle cx="576.4" cy="293.4" r="3.3"/><circle cx="587.2" cy="294.1" r="3.3"/><circle cx="598" cy="295.7" r="3.3"/><circle cx="610" cy="296.9" r="3.3"/><circle cx="620.2" cy="297.2" r="3.3"/><circle cx="631.3" cy="297.8" r="3.3"/><circle cx="642.5" cy="298.6" r="3.3"/><circle cx="653.7" cy="299.4" r="3.3"/><circle cx="664.7" cy="300.1" r="3.3"/><circle cx="675.6" cy="301.1" r="3.3"/><circle cx="686.8" cy="302.1" r="3.3"/><circle cx="547.9" cy="302.4" r="3.3"/><circle cx="559.1" cy="303" r="3.3"/><circle cx="570.5" cy="303.4" r="3.3"/><circle cx="581.3" cy="304" r="3.3"/><circle cx="592.1" cy="305" r="3.3"/><circle cx="602.9" cy="306.3" r="3.3"/><circle cx="614.1" cy="307.4" r="3.3"/><circle cx="625.4" cy="308" r="3.3"/><circle cx="636.6" cy="308.4" r="3.3"/><circle cx="647.8" cy="309" r="3.3"/><circle cx="658.8" cy="310" r="3.3"/><circle cx="670.1" cy="310.4" r="3.3"/><circle cx="680.9" cy="311.4" r="3.3"/><circle cx="692.3" cy="312" r="3.3"/><circle cx="553.2" cy="312.4" r="3.3"/><circle cx="564.6" cy="313.2" r="3.3"/><circle cx="575.4" cy="313.8" r="3.3"/><circle cx="586.6" cy="314.4" r="3.3"/><circle cx="597.4" cy="315.4" r="3.3"/><circle cx="608.4" cy="316.2" r="3.3"/><circle cx="619" cy="317.2" r="3.3"/><circle cx="630.3" cy="317.9" r="3.3"/><circle cx="641.5" cy="318.8" r="3.3"/><circle cx="652.9" cy="319.4" r="3.3"/><circle cx="663.8" cy="319.8" r="3.3"/><circle cx="675" cy="320.8" r="3.3"/><circle cx="685.8" cy="321.4" r="3.3"/><circle cx="546.9" cy="322" r="3.3"/><circle cx="558.3" cy="322.8" r="3.3"/><circle cx="569.5" cy="323.6" r="3.3"/><circle cx="580.7" cy="324.2" r="3.3"/><circle cx="591.5" cy="325" r="3.3"/><circle cx="602.5" cy="325.6" r="3.3"/><circle cx="613.6" cy="326.2" r="3.3"/></g>
<g font-family="DejaVu Sans" font-stretch="condensed" font-size="6.2" fill="#5a5a5a" stroke="#5a5a5a" stroke-width="0.1"><text x="542.6" y="327.6" text-anchor="end" textLength="3.3" lengthAdjust="spacingAndGlyphs">0</text><text x="542.6" y="310.8" text-anchor="end" textLength="3.3" lengthAdjust="spacingAndGlyphs">5</text><text x="542.6" y="293.8" text-anchor="end" textLength="6.6" lengthAdjust="spacingAndGlyphs">10</text><text x="542.6" y="276.9" text-anchor="end" textLength="6.6" lengthAdjust="spacingAndGlyphs">15</text><text x="542.6" y="260" text-anchor="end" textLength="6.6" lengthAdjust="spacingAndGlyphs">20</text><text x="542.6" y="243.1" text-anchor="end" textLength="6.6" lengthAdjust="spacingAndGlyphs">25</text><text x="542.6" y="226.2" text-anchor="end" textLength="6.6" lengthAdjust="spacingAndGlyphs">30</text><text x="542.6" y="209.3" text-anchor="end" textLength="6.6" lengthAdjust="spacingAndGlyphs">35</text><text x="542.6" y="192.4" text-anchor="end" textLength="6.6" lengthAdjust="spacingAndGlyphs">40</text><text x="547" y="335.6" text-anchor="middle" textLength="3.3" lengthAdjust="spacingAndGlyphs">0</text><text x="564" y="335.6" text-anchor="middle" textLength="3.3" lengthAdjust="spacingAndGlyphs">5</text><text x="581" y="335.6" text-anchor="middle" textLength="6.6" lengthAdjust="spacingAndGlyphs">10</text><text x="598" y="335.6" text-anchor="middle" textLength="6.6" lengthAdjust="spacingAndGlyphs">15</text><text x="615" y="335.6" text-anchor="middle" textLength="6.6" lengthAdjust="spacingAndGlyphs">20</text></g>
<g font-family="DejaVu Sans" font-stretch="condensed" fill="#555"><text x="602.1" y="348" font-size="7.7">x (Angstrom)</text>
<text transform="translate(528,252) rotate(-90)" text-anchor="middle" font-size="7">y (Angstrom)</text></g>
<circle cx="311.8" cy="249" r="5.5" fill="url(#gr)"/>
<defs><filter id="bl" x="-0.05" y="-0.05" width="1.1" height="1.1"><feGaussianBlur stdDeviation="1.15"/></filter>
<clipPath id="cc"><rect x="624" y="324" width="144" height="108"/></clipPath>
<linearGradient id="sh" x1="0" y1="0" x2="1" y2="0"><stop offset="0" stop-color="#2f313f"/><stop offset="0.45" stop-color="#3e3e4e"/><stop offset="0.75" stop-color="#5a586c"/><stop offset="1" stop-color="#727086"/></linearGradient>
<linearGradient id="fc" x1="0" y1="0" x2="0" y2="1"><stop offset="0" stop-color="#cba596"/><stop offset="0.5" stop-color="#c4968a"/><stop offset="1" stop-color="#c0a098"/></linearGradient></defs>
<g clip-path="url(#cc)"><rect x="624" y="324" width="144" height="108" fill="#8a8d8b"/>
<g filter="url(#bl)">
<rect x="618" y="318" width="132" height="72" fill="#818482"/>
<g><rect x="618" y="326.0" width="15" height="6" fill="#8c8f8d"/><rect x="634" y="326.0" width="15" height="6" fill="#8d908e"/><rect x="650" y="326.0" width="15" height="6" fill="#8c8f8d"/><rect x="666" y="326.0" width="15" height="6" fill="#8c8f8d"/><rect x="682" y="326.0" width="15" height="6" fill="#8d908e"/><rect x="698" y="326.0" width="15" height="6" fill="#8e918f"/><rect x="714" y="326.0" width="15" height="6" fill="#888b89"/><rect x="730" y="326.0" width="15" height="6" fill="#878a88"/><rect x="746" y="326.0" width="15" height="6" fill="#8d908e"/><rect x="610" y="333.0" width="15" height="6" fill="#8c8f8d"/><rect x="626" y="333.0" width="15" height="6" fill="#8f9290"/><rect x="642" y="333.0" width="15" height="6" fill="#8e918f"/><rect x="658" y="333.0" width="15" height="6" fill="#878a88"/><rect x="674" y="333.0" width="15" height="6" fill="#868987"/><rect x="690" y="333.0" width="15" height="6" fill="#8c8f8d"/><rect x="706" y="333.0" width="15" height="6" fill="#898c8a"/><rect x="722" y="333.0" width="15" height="6" fill="#878a88"/><rect x="738" y="333.0" width="15" height="6" fill="#868987"/><rect x="618" y="340.0" width="15" height="6" fill="#8d908e"/><rect x="634" y="340.0" width="15" height="6" fill="#8f9290"/><rect x="650" y="340.0" width="15" height="6" fill="#858886"/><rect x="666" y="340.0" width="15" height="6" fill="#8e918f"/><rect x="682" y="340.0" width="15" height="6" fill="#8b8e8c"/><rect x="698" y="340.0" width="15" height="6" fill="#8c8f8d"/><rect x="714" y="340.0" width="15" height="6" fill="#8f9290"/><rect x="730" y="340.0" width="15" height="6" fill="#8e918f"/><rect x="746" y="340.0" width="15" height="6" fill="#8f9290"/><rect x="610" y="347.0" width="15" height="6" fill="#878a88"/><rect x="626" y="347.0" width="15" height="6" fill="#8e918f"/><rect x="642" y="347.0" width="15" height="6" fill="#858886"/><rect x="658" y="347.0" width="15" height="6" fill="#8d908e"/><rect x="674" y="347.0" width="15" height="6" fill="#868987"/><rect x="690" y="347.0" width="15" height="6" fill="#858886"/><rect x="706" y="347.0" width="15" height="6" fill="#858886"/><rect x="722" y="347.0" width="15" height="6" fill="#888b89"/><rect x="738" y="347.0" width="15" height="6" fill="#888b89"/><rect x="618" y="354.0" width="15" height="6" fill="#8e918f"/><rect x="634" y="354.0" width="15" height="6" fill="#858886"/><rect x="650" y="354.0" width="15" height="6" fill="#8c8f8d"/><rect x="666" y="354.0" width="15" height="6" fill="#8a8d8b"/><rect x="682" y="354.0" width="15" height="6" fill="#8c8f8d"/><rect x="698" y="354.0" width="15" height="6" fill="#8e918f"/><rect x="714" y="354.0" width="15" height="6" fill="#888b89"/><rect x="730" y="354.0" width="15" height="6" fill="#8d908e"/><rect x="746" y="354.0" width="15" height="6" fill="#888b89"/><rect x="610" y="361.0" width="15" height="6" fill="#8f9290"/><rect x="626" y="361.0" width="15" height="6" fill="#898c8a"/><rect x="642" y="361.0" width="15" height="6" fill="#8c8f8d"/><rect x="658" y="361.0" width="15" height="6" fill="#858886"/><rect x="674" y="361.0" width="15" height="6" fill="#8f9290"/><rect x="690" y="361.0" width="15" height="6" fill="#868987"/><rect x="706" y="361.0" width="15" height="6" fill="#8c8f8d"/><rect x="722" y="361.0" width="15" height="6" fill="#8f9290"/><rect x="738" y="361.0" width="15" height="6" fill="#898c8a"/><rect x="618" y="368.0" width="15" height="6" fill="#8b8e8c"/><rect x="634" y="368.0" width="15" height="6" fill="#8d908e"/><rect x="650" y="368.0" width="15" height="6" fill="#868987"/><rect x="666" y="368.0" width="15" height="6" fill="#898c8a"/><rect x="682" y="368.0" width="15" height="6" fill="#8a8d8b"/><rect x="698" y="368.0" width="15" height="6" fill="#888b89"/><rect x="714" y="368.0" width="15" height="6" fill="#8d908e"/><rect x="730" y="368.0" width="15" height="6" fill="#898c8a"/><rect x="746" y="368.0" width="15" height="6" fill="#858886"/><rect x="610" y="375.0" width="15" height="6" fill="#868987"/><rect x="626" y="375.0" width="15" height="6" fill="#8e918f"/><rect x="642" y="375.0" width="15" height="6" fill="#868987"/><rect x="658" y="375.0" width="15" height="6" fill="#8b8e8c"/><rect x="674" y="375.0" width="15" height="6" fill="#868987"/><rect x="690" y="375.0" width="15" height="6" fill="#898c8a"/><rect x="706" y="375.0" width="15" height="6" fill="#8b8e8c"/><rect x="722" y="375.0" width="15" height="6" fill="#868987"/><rect x="738" y="375.0" width="15" height="6" fill="#858886"/><rect x="618" y="382.0" width="15" height="6" fill="#8f9290"/><rect x="634" y="382.0" width="15" height="6" fill="#858886"/><rect x="650" y="382.0" width="15" height="6" fill="#888b89"/><rect x="666" y="382.0" width="15" height="6" fill="#888b89"/><rect x="682" y="382.0" width="15" height="6" fill="#858886"/><rect x="698" y="382.0" width="15" height="6" fill="#8c8f8d"/><rect x="714" y="382.0" width="15" height="6" fill="#8b8e8c"/><rect x="730" y="382.0" width="15" height="6" fill="#8b8e8c"/><rect x="746" y="382.0" width="15" height="6" fill="#8b8e8c"/><rect x="610" y="389.0" width="15" height="6" fill="#868987"/><rect x="626" y="389.0" width="15" height="6" fill="#8e918f"/><rect x="642" y="389.0" width="15" height="6" fill="#8f9290"/><rect x="658" y="389.0" width="15" height="6" fill="#888b89"/><rect x="674" y="389.0" width="15" height="6" fill="#8f9290"/><rect x="690" y="389.0" width="15" height="6" fill="#898c8a"/><rect x="706" y="389.0" width="15" height="6" fill="#8a8d8b"/><rect x="722" y="389.0" width="15" height="6" fill="#868987"/><rect x="738" y="389.0" width="15" height="6" fill="#898c8a"/></g>
<rect x="618" y="318" width="132" height="15" fill="#a3a3ab" fill-opacity="0.75"/>
<rect x="618" y="384" width="70" height="7" fill="#a2a4a1"/>
<rect x="618" y="391" width="70" height="45" fill="#aeb0ad"/>
<rect x="748" y="318" width="24" height="70" fill="#141917"/>
<rect x="744" y="387" width="20" height="11" fill="#406f93"/>
<rect x="760" y="386" width="10" height="10" fill="#8aa0b0"/>
<rect x="752" y="394" width="20" height="42" fill="#cfd0d3"/>
<path d="M630 436 L633 432 L638 425 L645 414 L652 404 L660 397.7 L672 394 L686 390 L718 389 L740 395 L752 403 L758 415 L762 436 Z" fill="url(#sh)"/>
<path d="M738 395 L752 403 L758 415 L762 436 L745 436 L741 410 Z" fill="#828096"/>
<path d="M688 388 L714 388 L714 397 L698 408 L690 397 Z" fill="#c0a49c"/>
<rect x="695.5" y="405" width="7.5" height="31" fill="#6a6878"/>
<path d="M682.5 350 C681.5 364 682.5 377 687.5 386.5 C691.5 393 696 396.5 701 396.5 C706 396.5 711 393 714.5 387.5 C719.5 379 720.5 365 719.5 350 C712 343 690 343 682.5 350 Z" fill="url(#fc)"/>
<path d="M678 370 L677.5 352 C678 345 681 339 686 335.5 C691 332.5 697 331.5 703 332.5 C710 333.5 716 337 719.5 342 C721.5 346 722 352 721.5 362 L719 360 C718 355 715 352 710 351.5 C704 351 699 353 693 352.5 C688 352.5 684.5 355 683 360 L682 370 Z" fill="#41352e"/>
<path d="M700 337 C707 336 713 339 717 345" stroke="#66564a" stroke-width="3" fill="none"/><path d="M684 345 C688 340 692 338 697 337" stroke="#362c26" stroke-width="3" fill="none"/>
<ellipse cx="679.2" cy="369.5" rx="3.3" ry="7.5" fill="#141414"/>
<ellipse cx="722.5" cy="367" rx="3" ry="8" fill="#141414"/>
<rect x="684.5" y="363" width="15" height="10" rx="3" fill="#98a890" fill-opacity="0.5" stroke="#d84a46" stroke-width="1.6"/>
<rect x="702.5" y="362" width="16" height="10" rx="3" fill="#98a890" fill-opacity="0.5" stroke="#d84a46" stroke-width="1.6"/>
<path d="M699.5 366 L702.5 365.5" stroke="#d4433e" stroke-width="1.5"/>
<ellipse cx="692" cy="378" rx="5" ry="3.5" fill="#c0807a" fill-opacity="0.6"/>
<ellipse cx="710" cy="377" rx="5" ry="3.5" fill="#c0807a" fill-opacity="0.6"/>
<ellipse cx="699" cy="385.5" rx="7" ry="1.8" fill="#86544c"/>
<path d="M722 372 C721 380 718 385 714 388.5" stroke="#2a2a2a" stroke-width="1.2" fill="none"/><rect x="711" y="387" width="6" height="3" rx="1.5" fill="#1e1e1e"/>
</g></g>

</svg>
</body></html>
